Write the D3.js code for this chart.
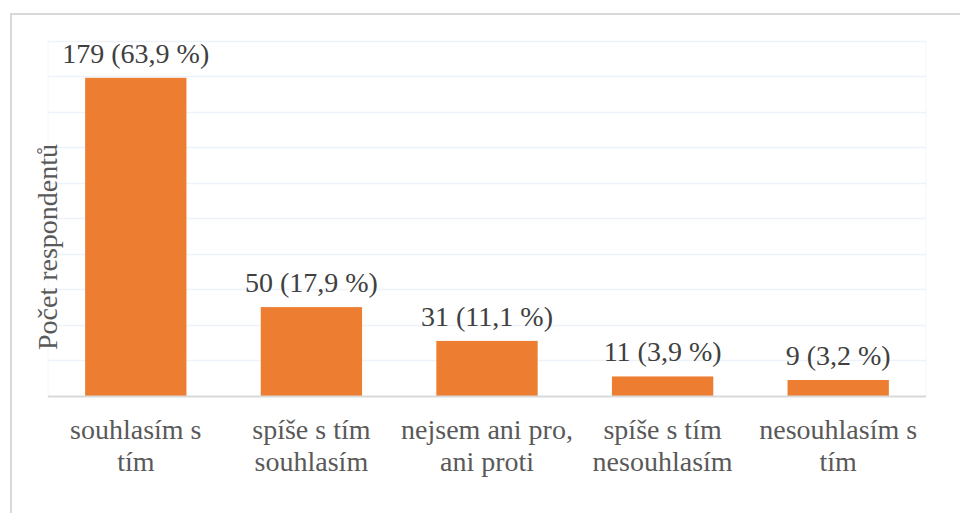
<!DOCTYPE html>
<html>
<head>
<meta charset="utf-8">
<script src="https://cdn.jsdelivr.net/npm/d3@7"></script>
<style>
  html, body { margin: 0; padding: 0; background: #fff; }
  svg { display: block; }
  #chart text, #chart tspan { font-family: "Liberation Serif", serif !important; }
</style>
</head>
<body>
<svg id="chart" width="960" height="513"></svg>
<script>
const categories = ["souhlasím s\ntím", "spíše s tím\nsouhlasím", "nejsem ani pro,\nani proti", "spíše s tím\nnesouhlasím", "nesouhlasím s\ntím"];
const counts = [179, 50, 31, 11, 9];
const percentLabels = ["63,9", "17,9", "11,1", "3,9", "3,2"];
const yTicks = [0, 20, 40, 60, 80, 100, 120, 140, 160, 180, 200];
const yTitle = "Počet respondentů";

const svg = d3.select("#chart");
const plot = { left: 48, right: 926, top: 40.5, bottom: 396 };
const serifStyle = "font-family: 'Liberation Serif', serif !important; font-size: 28px;";

svg.append("path").attr("d", "M11,513 L11,14 L960,14")
  .attr("fill", "none").attr("stroke", "#d9d9d9").attr("stroke-width", 2);

const x = d3.scaleBand().domain(categories).range([plot.left, plot.right]).paddingInner(0.423).paddingOuter(0.2115);
const y = d3.scaleLinear().domain([0, 200]).range([plot.bottom, plot.top]);

const grid = svg.append("g");
grid.selectAll("line.h").data(yTicks.slice(1)).join("line").attr("class", "h")
  .attr("x1", plot.left).attr("x2", plot.right)
  .attr("y1", d => Math.round(y(d)) + 0.5).attr("y2", d => Math.round(y(d)) + 0.5)
  .attr("stroke", "#eef2f9").attr("stroke-width", 1.5);
grid.selectAll("line.v").data([plot.left, plot.right]).join("line").attr("class", "v")
  .attr("x1", d => d).attr("x2", d => d).attr("y1", plot.top).attr("y2", plot.bottom)
  .attr("stroke", "#f4f6fb").attr("stroke-width", 1);

svg.append("g").selectAll("rect").data(counts).join("rect")
  .attr("x", (d, i) => x(categories[i]))
  .attr("width", x.bandwidth())
  .attr("y", d => y(d))
  .attr("height", d => y(0) - y(d))
  .attr("fill", "#ed7d31");

svg.append("line").attr("x1", plot.left).attr("x2", plot.right)
  .attr("y1", plot.bottom + 0.5).attr("y2", plot.bottom + 0.5)
  .attr("stroke", "#d9d9d9").attr("stroke-width", 2);

svg.append("g").selectAll("text").data(counts).join("text")
  .attr("x", (d, i) => x(categories[i]) + x.bandwidth() / 2)
  .attr("y", d => y(d) - 15)
  .attr("text-anchor", "middle")
  .attr("style", serifStyle).attr("fill", "#404040")
  .text((d, i) => `${d} (${percentLabels[i]} %)`);

const cat = svg.append("g").selectAll("text").data(categories).join("text")
  .attr("x", d => x(d) + x.bandwidth() / 2)
  .attr("y", 439)
  .attr("text-anchor", "middle")
  .attr("style", serifStyle).attr("fill", "#595959");
cat.each(function(d) {
  const t = d3.select(this);
  const cx = t.attr("x");
  d.split("\n").forEach((l, k) => {
    t.append("tspan").attr("x", cx).attr("dy", k === 0 ? 0 : 32).text(l);
  });
});

svg.append("text")
  .attr("transform", "translate(56.5, 247) rotate(-90)")
  .attr("text-anchor", "middle")
  .attr("style", serifStyle).attr("fill", "#595959")
  .text(yTitle);
</script>
</body>
</html>
